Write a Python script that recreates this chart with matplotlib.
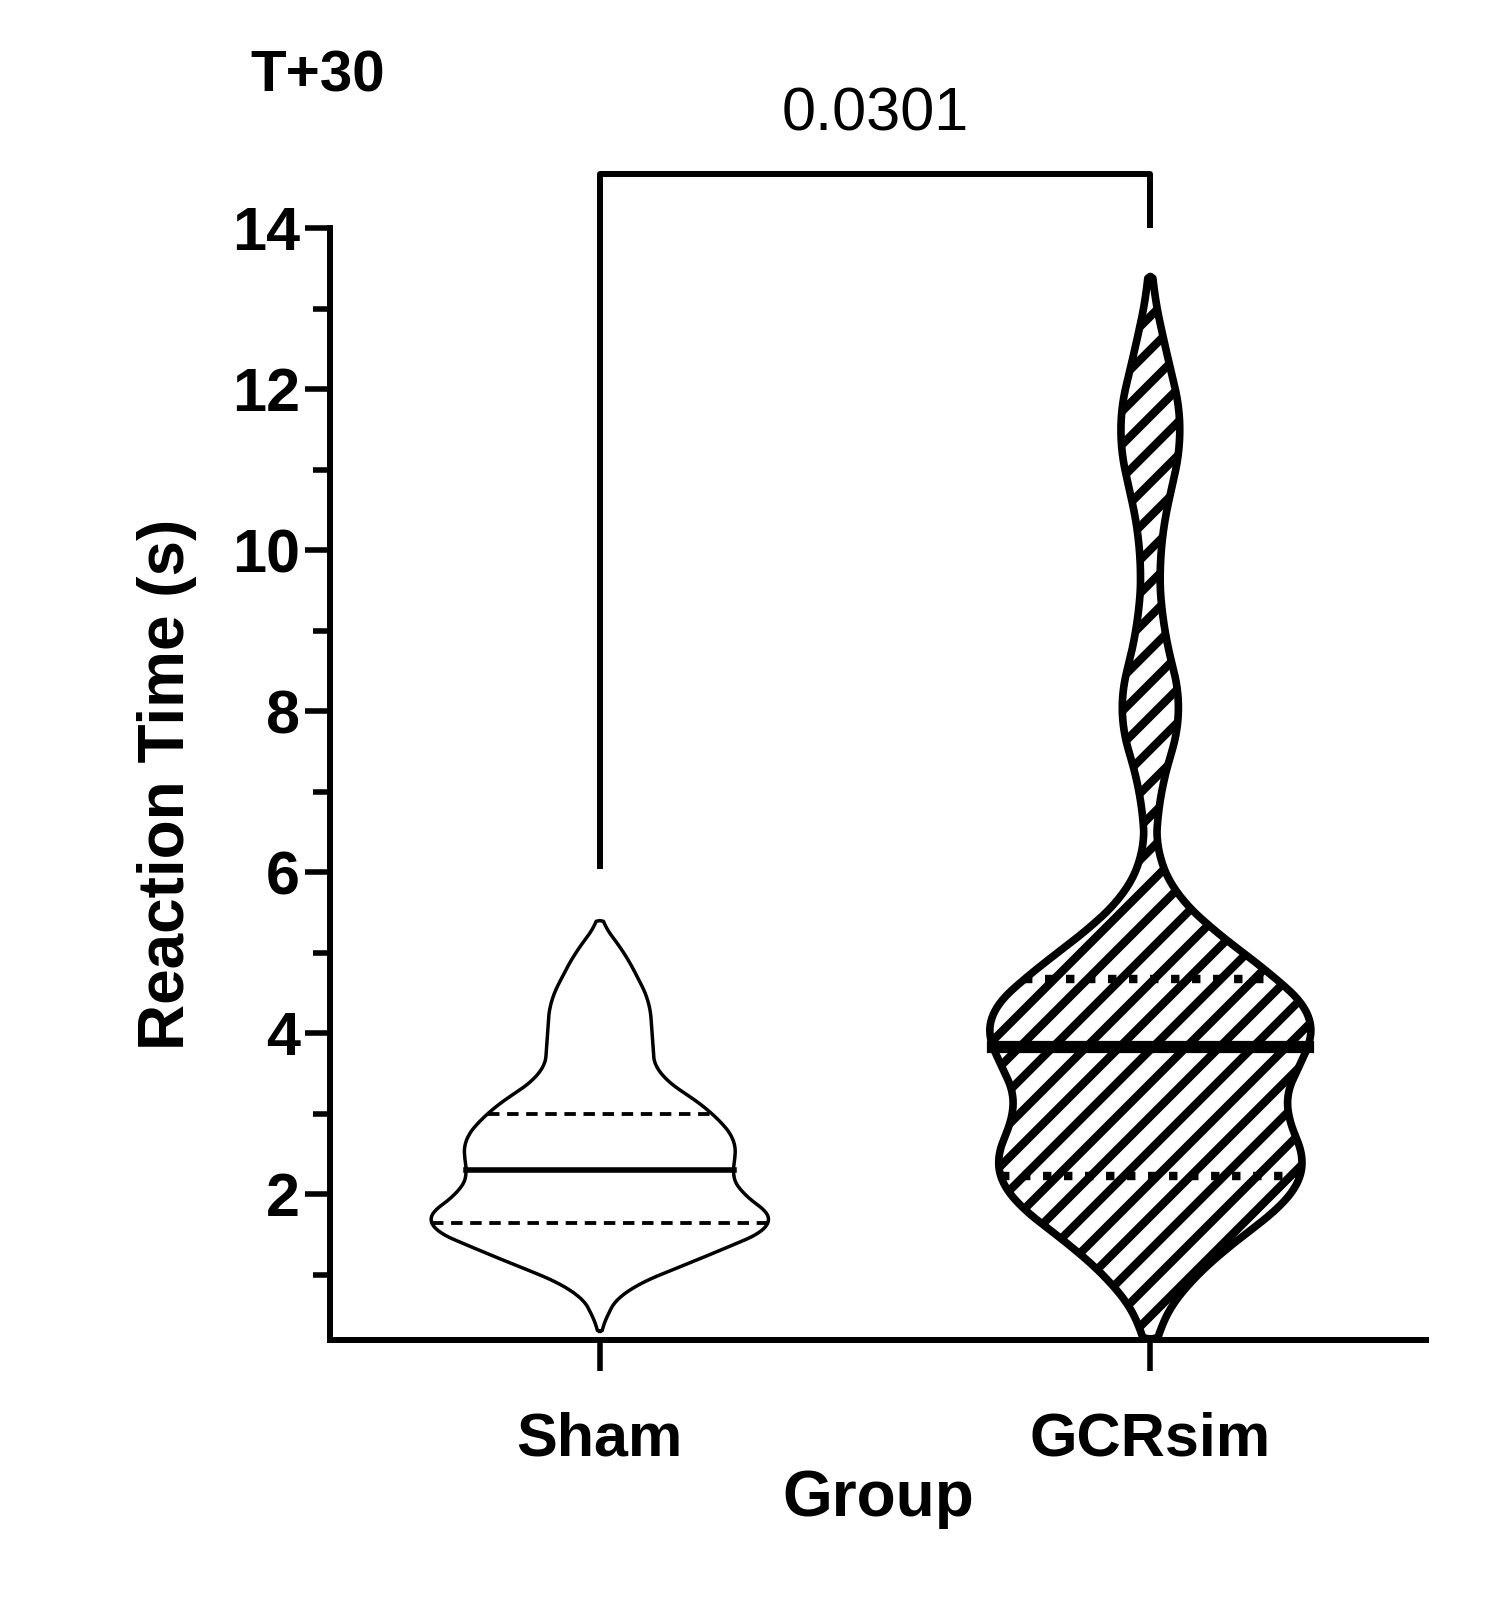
import matplotlib.pyplot as plt
import numpy as np

plt.rcParams['font.family'] = ['Liberation Sans', 'DejaVu Sans']
plt.rcParams['hatch.linewidth'] = 6

groups = ['Sham', 'GCRsim']

# violin outlines: y value, half width (in pixels of the original)
sham_y = [0.3, 0.8, 1.0, 1.3, 1.65, 2.0, 2.3, 2.6, 3.0, 3.3, 3.5, 4.4, 5.0, 5.4]
sham_w = [0, 20, 60, 120, 185, 140, 130, 140, 115, 80, 55, 50, 25, 0]
sham_q = [1.65, 2.3, 3.0]

gcr_y = [0.2, 0.5, 1.0, 1.3, 1.8, 2.2, 2.5, 3.0, 3.2, 3.5, 4.0, 4.5, 5.0, 5.5, 6.0,
         7.0, 8.0, 9.0, 10.0, 11.0, 11.5, 12.5, 13.4]
gcr_w = [0, 15, 40, 70, 130, 165, 160, 130, 120, 140, 180, 150, 90, 40, 5,
         8, 35, 12, 8, 25, 35, 15, 0]
gcr_q = [2.23, 3.83, 4.67]

p_value = '0.0301'

px = 550.0  # pixels per x unit in the reference

fig = plt.figure(figsize=(15.07, 16.18), dpi=100)
ax = fig.add_axes([0.219, 0.172, 0.727, 0.687])

def violin(x0, ys, ws, qs, lw, hatch=None):
    yy = np.linspace(ys[0], ys[-1], 600)
    ww = np.interp(yy, ys, ws)
    k = 25
    pad = np.r_[np.zeros(k), ww, np.zeros(k)]
    ww = np.convolve(pad, np.ones(2 * k + 1) / (2 * k + 1), mode='same')[k:-k]
    ww[0] = ww[-1] = 0
    ww = ww / px
    ax.fill_betweenx(yy, x0 - ww, x0 + ww, facecolor='white', edgecolor='black',
                     hatch=hatch, linewidth=0)
    ax.plot(np.r_[x0 - ww, (x0 + ww)[::-1]], np.r_[yy, yy[::-1]], color='black', lw=lw)
    for i, q in enumerate(qs):
        w = np.interp(q, yy, ww)
        ls = '-' if i == 1 else (0, (3, 2)) if hatch is None else (0, (1, 1.5))
        ax.plot([x0 - w, x0 + w], [q, q], color='black', lw=lw * (1.6 if i == 1 else 1.1), ls=ls)

violin(0, sham_y, sham_w, sham_q, 2.5)
violin(1, gcr_y, gcr_w, gcr_q, 5.5, hatch='/')

ax.set_xlim(-0.49, 1.5)
ax.set_ylim(0.195, 14)
ax.set_xticks([0, 1])
ax.set_xticklabels(groups, fontsize=44, fontweight='bold')
ax.set_yticks([2, 4, 6, 8, 10, 12, 14])
ax.set_yticks([1, 3, 5, 7, 9, 11, 13], minor=True)
ax.tick_params(axis='y', which='major', labelsize=44, width=4, length=18)
ax.tick_params(axis='y', which='minor', width=4, length=12)
ax.tick_params(axis='x', width=4, length=22, pad=30)
for t in ax.get_yticklabels():
    t.set_fontweight('bold')
for s in ['top', 'right']:
    ax.spines[s].set_visible(False)
for s in ['left', 'bottom']:
    ax.spines[s].set_linewidth(4.3)

ax.set_ylabel('Reaction Time (s)', fontsize=46, fontweight='bold', labelpad=25)
ax.set_xlabel('Group', fontsize=46, fontweight='bold', labelpad=0)

ax.plot([0, 0, 1, 1], [6.08, 14.67, 14.67, 14.04], color='black', lw=4.3, clip_on=False)
ax.text(0.5, 15.05, p_value, ha='center', va='bottom', fontsize=44)
fig.text(0.166, 0.953, 'T+30', fontsize=42, fontweight='bold', va='center')

fig.savefig('out.png')
